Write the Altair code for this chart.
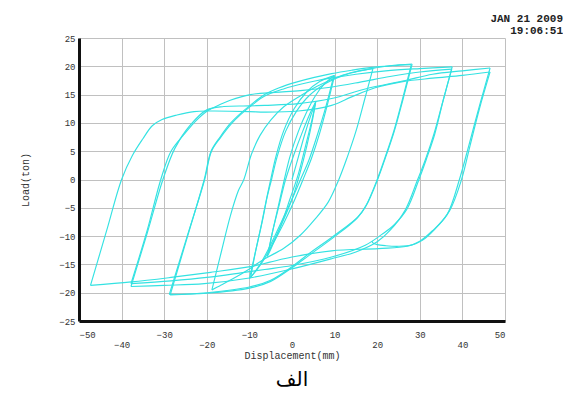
import altair as alt
import pandas as pd

# ---- data: hysteresis path, one list per branch (displacement mm, load ton) ----
DISP = [
    [0, 1.5, 3, 4.5, 5.5],
    [5.5, 4.8, 3.5, 2, 0, -2.5, -4.5, -5.5],
    [-5.5, -4.5, -3, -1.5, 0.5, 2.5, 4.3, 5.6],
    [5.6, 4.7, 3.2, 1.5, -0.5, -2.8, -4.8, -5.8],
    [-5.8, -4.5, -3, -1.8, -0.5, 1.5, 3.5, 5.5, 7.5, 9.8],
    [9.8, 8, 6, 4, 2, 0, -2.5, -5, -7.5, -9.7],
    [-9.7, -8.5, -7.2, -6, -5, -3.8, -2, 0.5, 3.5, 6.5, 10],
    [10, 8.3, 6.5, 4.6, 2.6, 0.5, -2, -4.8, -7.5, -10],
    [-10, -8.5, -7, -5.8, -4.8, -3.5, -1.5, 1, 4, 8, 12, 16, 19],
    [19, 17, 15, 13, 11, 8.5, 5.4, 2, -2, -6.4, -10, -14, -17, -18.8],
    [-18.8, -16.5, -14.5, -12.6, -11.3, -9.5, -7.5, -5, -2, 2, 6, 10, 14, 18.7, 23, 28.2],
    [28.2, 26, 24, 22, 20.1, 17.5, 15.6, 10.1, 3.8, 0, -5, -10, -20, -28.6],
    [-28.6, -24.5, -20.6, -19, -16.8, -14.5, -12.2, -9.8, -6.7, -3, 1, 5, 9.3, 14, 18.7, 23.5, 28],
    [28, 25.8, 23.8, 21.8, 20, 17.3, 15.3, 10, 4, 0, -5, -10, -20, -28.8],
    [-28.8, -24.6, -20.5, -18.9, -16.7, -14.3, -12, -9.6, -6.5, -2, 3, 9, 15, 22, 30, 37.6],
    [37.6, 35.5, 33.5, 31.5, 29.8, 27, 24, 21.1, 17.2, 9.3, 0, -6.4, -12, -20, -28.4, -37.8],
    [-37.8, -34, -30.8, -28.4, -25.3, -22.5, -19.9, -17, -14.5, -9.8, -4, 2, 9, 16, 23, 30, 37.5],
    [37.5, 35.3, 33.3, 31.3, 29.5, 26.5, 23, 20, 15, 9.3, 0, -10, -20.6, -30, -37.8],
    [-37.8, -34, -30.3, -27.5, -24, -20, -16, -10, -6.4, 1.5, 9.3, 17.2, 26.6, 33, 40, 46.5],
    [46.5, 44, 41.5, 39.3, 36.4, 32.9, 30, 27, 20.3, 9.3, 0, -5.2, -9.8, -19.1, -28.4, -37.7, -47.3],
    [-47.3, -43.5, -40, -37.5, -35, -32.8, -30.5, -27, -23, -19, -10, -6.4, 1.5, 9.3, 14, 19.5, 26, 33, 40, 46.5],
    [46.5, 44, 41.8, 39.8, 37, 33.5, 30.5, 28, 25, 22, 20, 19, 18.8],
]
LOAD = [
    [0, 4, 8, 11.5, 13.5],
    [13.5, 10.5, 6, 1.5, -3.5, -8, -11.2, -12.8],
    [-12.8, -9, -4.5, 0, 4.5, 8.5, 11.8, 13.8],
    [13.8, 10.6, 6, 1, -3.5, -8.5, -12, -13.6],
    [-13.6, -9, -4, 0, 4, 8.5, 12, 14.8, 16.8, 18.3],
    [18.3, 13, 8, 3.5, 0, -3.5, -7.5, -11.5, -15, -17.3],
    [-17.3, -12.5, -8, -3.5, 0, 4, 8.5, 12.5, 15.5, 17.3, 18.4],
    [18.4, 13.2, 8.2, 3.8, 0, -3.8, -7.8, -11.8, -15.2, -17.5],
    [-17.5, -12.5, -7.5, -3, 0, 4, 8.5, 12, 14.8, 17, 18.4, 19.2, 19.6],
    [19.6, 14, 8.5, 4, 0, -4, -7, -9.8, -12.2, -14, -15.8, -17.6, -18.8, -19.5],
    [-19.5, -12.5, -6.5, -2, 0, 4.5, 7.8, 10.5, 12.8, 14.8, 16.5, 17.9, 18.9, 19.6, 20.1, 20.4],
    [20.4, 14, 8.5, 4, 0, -4.5, -6.5, -9.8, -13.2, -15.4, -17.8, -19, -20, -20.4],
    [-20.4, -10, 0, 5, 7.6, 9.9, 11.6, 13.1, 14.9, 16.2, 17.2, 18, 18.7, 19.3, 19.8, 20.1, 20.3],
    [20.3, 13.8, 8.3, 3.8, 0, -4.7, -6.8, -10.1, -13.4, -15.6, -18, -19.2, -20.1, -20.3],
    [-20.3, -10, 0, 5, 7.5, 9.8, 11.5, 13, 14.7, 16, 17, 17.9, 18.6, 19.2, 19.6, 19.9],
    [19.9, 14, 8, 3.5, 0, -5.2, -8, -9.7, -11.6, -13.7, -15.2, -15.9, -16.5, -17.3, -17.9, -18.4],
    [-18.4, -9, 0, 5, 8, 10.4, 12.1, 13.2, 14, 15, 15.4, 15.7, 16.3, 17.2, 18.2, 19, 19.5],
    [19.5, 13.5, 8, 3.5, 0, -5.5, -9, -11, -12.8, -14, -15.8, -17.4, -18.4, -18.7, -18.9],
    [-18.9, -9.5, 0, 5.5, 9.5, 12.3, 12.9, 13.0, 13.1, 13.4, 14.3, 16, 17.5, 18.6, 19.2, 19.7],
    [19.7, 13, 6, 0, -6.2, -9.1, -10.9, -11.8, -12.2, -12.6, -13.7, -14.6, -15.4, -16.4, -17.3, -18.1, -18.7],
    [-18.7, -9, 0, 4.2, 7.2, 9.5, 10.6, 11.4, 12, 12.1, 12, 11.9, 12.1, 13.1, 14.6, 16.2, 17.3, 17.9, 18.4, 19.0],
    [19.0, 12.5, 6, 0, -5.5, -8.8, -10.8, -11.6, -11.8, -11.7, -11.5, -11.2, -10.9],
]
X_TICKS = [-50, -40, -30, -20, -10, 0, 10, 20, 30, 40, 50]
Y_TICKS = [-25, -20, -15, -10, -5, 0, 5, 10, 15, 20, 25]
TITLE_LINES = ["JAN 21 2009", "19:06:51"]
CAPTION = ["الف"]

rows = []
for b, (xs, ys) in enumerate(zip(DISP, LOAD)):
    for i, (x, y) in enumerate(zip(xs, ys)):
        rows.append({"branch": b, "i": i, "disp": x, "load": y})
df = pd.DataFrame(rows)

W, H = 426, 283
MONO = "Liberation Mono"

x_axis = alt.Axis(
    values=X_TICKS, title="Displacement(mm)", grid=True, ticks=False,
    gridColor="#c0c0c0", gridWidth=1, domainColor="#111", domainWidth=3,
    labelFont=MONO, labelFontSize=9, labelColor="#333", labelPadding=9,
    labelLineHeight=10,
    labelExpr="datum.value % 20 == 0 ? [' ', datum.label] : datum.label",
    titleFont=MONO, titleFontSize=10, titleFontWeight="normal", titleColor="#333",
    titlePadding=1,
)
y_axis = alt.Axis(
    values=Y_TICKS, title="Load(ton)", grid=True, ticks=False,
    gridColor="#c0c0c0", gridWidth=1, domainColor="#111", domainWidth=3,
    labelFont=MONO, labelFontSize=9, labelColor="#333", labelPadding=4,
    titleFont=MONO, titleFontSize=10, titleFontWeight="normal", titleColor="#333",
    titlePadding=28,
)

lines = alt.Chart(df).mark_line(
    color="#34E2E2", strokeWidth=1.15, interpolate="catmull-rom", clip=True
).encode(
    x=alt.X("disp:Q", scale=alt.Scale(domain=[-50, 50], nice=False, zero=False), axis=x_axis),
    y=alt.Y("load:Q", scale=alt.Scale(domain=[-25, 25], nice=False, zero=False), axis=y_axis),
    detail="branch:N",
    order="i:Q",
)

caption = alt.Chart(pd.DataFrame({"t": CAPTION})).mark_text(
    font="DejaVu Sans", fontSize=20, color="#000", baseline="alphabetic", align="center"
).encode(text="t:N", x=alt.value(W / 2), y=alt.value(H + 65))

chart = alt.layer(lines, caption).properties(
    width=W, height=H,
    padding={"left": 71, "top": 30, "right": 58, "bottom": 70},
    autosize=alt.AutoSizeParams(type="none"),
    title=alt.TitleParams(
        TITLE_LINES, anchor="end", frame="group", dx=58, dy=7, offset=5,
        font=MONO, fontSize=11, fontWeight="bold", color="#222", lineHeight=12,
    ),
).configure_view(stroke=None)

chart.save("out.html", embed_options={"renderer": "svg", "actions": False})
